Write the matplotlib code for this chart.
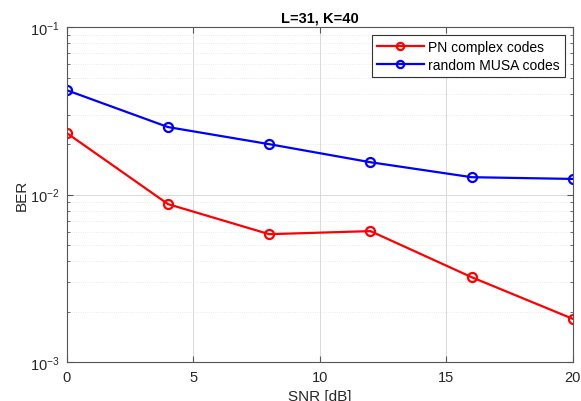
import matplotlib
matplotlib.use("Agg")
import matplotlib.pyplot as plt
from matplotlib.ticker import LogLocator, NullFormatter

plt.rcParams['font.family'] = ['Liberation Sans', 'DejaVu Sans']

snr = [0, 4, 8, 12, 16, 20]
ber_pn = [0.0233, 0.00877, 0.0058, 0.00605, 0.00321, 0.00181]
ber_musa = [0.042, 0.0253, 0.0200, 0.0156, 0.0127, 0.0124]

fig = plt.figure(figsize=(5.81, 4.02), dpi=100)
ax = fig.add_axes([0.115, 0.097, 0.871, 0.833])

ax.semilogy(snr, ber_pn, '-o', color='red', lw=1.6, ms=6.5, mfc='none', mew=1.6,
            label='PN complex codes')
ax.semilogy(snr, ber_musa, '-o', color='blue', lw=1.6, ms=6.5, mfc='none', mew=1.6,
            label='random MUSA codes')

ax.set_xlim(0, 20)
ax.set_ylim(1e-3, 1e-1)
ax.set_xticks([0, 5, 10, 15, 20])
ax.yaxis.set_major_locator(LogLocator(base=10, numticks=10))
ax.yaxis.set_minor_locator(LogLocator(base=10, subs=range(2, 10), numticks=20))
ax.yaxis.set_minor_formatter(NullFormatter())

ax.grid(True, which='major', color='#d9d9d9', lw=0.7)
ax.grid(True, which='minor', axis='y', color='#e3e3e3', lw=0.6, ls=':')
ax.tick_params(which='both', direction='in', top=True, right=True, labelsize=10.5,
               color='#555555', labelcolor='#262626')
ax.tick_params(axis='x', pad=6)
ax.tick_params(axis='y', pad=5)
ax.tick_params(which='minor', length=2)
ax.tick_params(which='major', length=4)
for s in ax.spines.values():
    s.set_color('#555555')
    s.set_linewidth(0.8)

ax.set_xlabel('SNR [dB]', fontsize=11, labelpad=3, color='#262626')
ax.set_ylabel('BER', fontsize=11, color='#262626', labelpad=1)
ax.set_title('L=31, K=40', fontsize=10.5, fontweight='bold', pad=4)

leg = ax.legend(loc='upper right', fontsize=10, fancybox=False, framealpha=1,
                edgecolor='#333333', borderaxespad=0.6, handlelength=3.4,
                borderpad=0.35, labelspacing=0.25, handletextpad=0.3, markerscale=0.8)
leg.get_frame().set_linewidth(0.8)

fig.savefig('out.png', dpi=100)
